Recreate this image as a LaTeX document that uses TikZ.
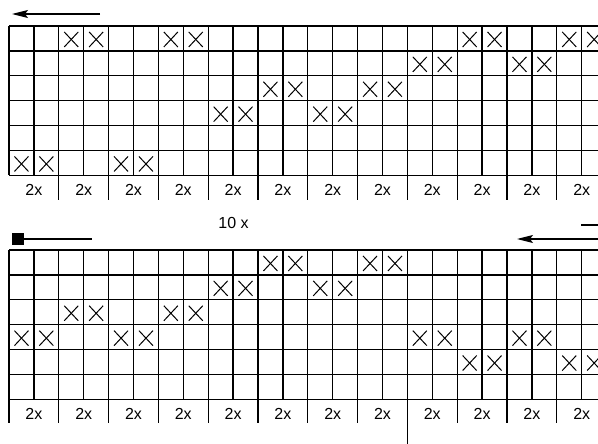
\documentclass[tikz,border=0pt]{standalone}
\usepackage{fontspec}
\setmainfont{Liberation Sans}
\usetikzlibrary{arrows.meta}

\tikzset{
  gridline/.style={line width=1.3pt},
  crossline/.style={line width=1pt},
  cnt/.style={font=\fontsize{16}{18}\selectfont, inner sep=0pt}
}
\newcommand{\cw}{24.9}
% cross in cell: column, row, top of grid
\newcommand{\markcell}[3]{%
  \draw[crossline] (9+#1*\cw+\cw/2-7,#3+#2*\cw+\cw/2-6.5) -- (9+#1*\cw+\cw/2+7,#3+#2*\cw+\cw/2+8.5);
  \draw[crossline] (9+#1*\cw+\cw/2-7,#3+#2*\cw+\cw/2+8.5) -- (9+#1*\cw+\cw/2+7,#3+#2*\cw+\cw/2-6.5);
}

\begin{document}
\begin{tikzpicture}[x=1pt,y=-1pt,>={Stealth[length=16pt,width=8pt,inset=3pt]}]
\useasboundingbox (0,0) rectangle (598,444);
\clip (0,0) rectangle (598,444);

% upper grid
\foreach \r in {0,...,6}
  \draw[gridline] (9,26+\r*\cw) -- (9+24*\cw,26+\r*\cw);
\foreach \c in {0,...,24}
  \draw[gridline] (9+\c*\cw,26) -- (9+\c*\cw,26+6*\cw);
\foreach \k in {1,...,12}
  \draw[gridline] (9+2*\k*\cw,26+6*\cw) -- (9+2*\k*\cw,200);
\foreach \k in {1,...,12}
  \node[cnt] (tc\k) at (9+2*\k*\cw-\cw,189.5) {2x};
\foreach \c/\r in {0/5,2/0,4/5,6/0,8/3,10/2,12/3,14/2,16/1,18/0,20/1,22/0}{
  \markcell{\c}{\r}{26}
  \pgfmathtruncatemacro{\cc}{\c+1}
  \markcell{\cc}{\r}{26}
}

% lower grid
\foreach \r in {0,...,6}
  \draw[gridline] (9,250+\r*\cw) -- (9+24*\cw,250+\r*\cw);
\foreach \c in {0,...,24}
  \draw[gridline] (9+\c*\cw,250) -- (9+\c*\cw,250+6*\cw);
\foreach \k in {0,...,12}
  \draw[gridline] (9+2*\k*\cw,250+6*\cw) -- (9+2*\k*\cw,423);
\draw[gridline] (9+16*\cw,423) -- (9+16*\cw,444);
\foreach \k in {1,...,12}
  \node[cnt] (bc\k) at (9+2*\k*\cw-\cw,413.5) {2x};
\foreach \c/\r in {0/3,2/2,4/3,6/2,8/1,10/0,12/1,14/0,16/3,18/4,20/3,22/4}{
  \markcell{\c}{\r}{250}
  \pgfmathtruncatemacro{\cc}{\c+1}
  \markcell{\cc}{\r}{250}
}

\node[cnt] (rep) at (233.5,223) {10 x};

% arrows
\coordinate (ta0) at (100,14);
\coordinate (ta1) at (12,14);
\draw[gridline,->] (ta0) -- (ta1);

\node[fill, minimum size=12pt, inner sep=0pt] (sq) at (18,239) {};
\coordinate (sq1) at (92,239);
\draw[gridline] (sq) -- (sq1);

\coordinate (ba0) at (600,239);
\coordinate (ba1) at (517,239);
\draw[gridline,->] (ba0) -- (ba1);
\coordinate (bb0) at (581,225);
\coordinate (bb1) at (600,225);
\draw[gridline] (bb0) -- (bb1);
\end{tikzpicture}
\end{document}
